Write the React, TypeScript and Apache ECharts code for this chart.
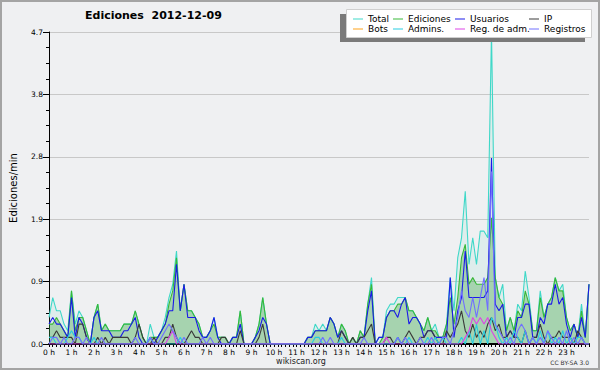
import React, { useEffect, useRef } from "react";
import * as echarts from "echarts";

// 10-minute slots, index 0..144 (0 h .. 24 h)
const hourLabels = ["0 h","1 h","2 h","3 h","4 h","5 h","6 h","7 h","8 h","9 h","10 h","11 h","12 h","13 h","14 h","15 h","16 h","17 h","18 h","19 h","20 h","21 h","22 h","23 h"];
const yLabels = ["0.0", "0.9", "1.9", "2.8", "3.8", "4.7"];

const total = [
  0.4,0.7,0.5,0.5,0.3,0.2,0.8,0.3,0.5,0.4,
  0.2,0,0.4,0.6,0.2,0.3,0.2,0.2,0.2,0.2,
  0.3,0.3,0.3,0.5,0.3,0.1,0,0.3,0.1,0.1,
  0.2,0.4,0.7,0.9,1.4,0.5,0.9,0.5,0.5,0.4,
  0.3,0.1,0.1,0.2,0.4,0.1,0.1,0.1,0,0.1,
  0.1,0.5,0,0,0,0.1,0.3,0.7,0.3,0,
  0,0,0,0,0,0,0,0,0,0.1,
  0.1,0.3,0.2,0.3,0.2,0.4,0.3,0.1,0.3,0.2,
  0,0.1,0,0.2,0.1,0.6,1.0,0,0.1,0.1,
  0.5,0.6,0.6,0.7,0.7,0.7,0.5,0.5,0.4,0.3,
  0.2,0.4,0.2,0.3,0.1,0.1,0.3,1.0,0.5,1.3,
  1.6,2.3,1.2,1.6,1.2,1.7,1.7,1.6,4.7,1.0,
  0.7,0.9,0.2,0.4,0.2,0.6,0.5,1.1,0.7,0.2,
  0.2,0.8,0.4,0.6,0.7,1.0,0.8,0.9,0.4,0.2,
  0.3,0.1,0.6,0.1,0.9
];
const ediciones = [
  0.3,0.3,0.4,0.3,0.2,0.1,0.8,0.2,0.4,0.4,
  0.2,0,0.4,0.6,0.2,0.3,0.2,0.2,0.2,0.2,
  0.3,0.3,0.3,0.5,0.3,0.1,0,0.1,0.1,0.1,
  0.2,0.3,0.6,0.8,1.3,0.5,0.9,0.5,0.5,0.4,
  0.3,0.1,0.1,0.2,0.3,0.1,0.1,0.1,0,0.1,
  0.1,0.5,0,0,0,0.1,0.3,0.7,0.3,0,
  0,0,0,0,0,0,0,0,0,0.1,
  0.1,0.2,0.2,0.2,0.2,0.4,0.3,0.1,0.3,0.2,
  0,0.1,0,0.2,0.1,0.6,0.9,0,0,0.1,
  0.4,0.5,0.5,0.6,0.6,0.7,0.5,0.5,0.4,0.3,
  0.2,0.4,0.2,0.2,0.1,0.1,0.3,0.7,0.3,0.7,
  1.3,1.5,0.9,1.0,0.9,0.9,0.9,1.0,1.9,1.0,
  0.7,0.6,0.2,0.4,0.2,0.5,0.4,0.8,0.6,0.2,
  0.2,0.7,0.4,0.6,0.7,1.0,0.8,0.8,0.4,0.2,
  0.3,0.1,0.5,0.1,0.9
];
const usuarios = [
  0.3,0.4,0.3,0.3,0.2,0.1,0.7,0.1,0.4,0.3,
  0.1,0,0.4,0.5,0.2,0.2,0.2,0.1,0.1,0.1,
  0.2,0.2,0.3,0.4,0.1,0,0,0.1,0,0.1,
  0.2,0.3,0.5,0.5,1.2,0.5,0.9,0.4,0.4,0.4,
  0.2,0.1,0.1,0.2,0.4,0.1,0,0,0,0.1,
  0.1,0.3,0,0,0,0.1,0.2,0.4,0.3,0,
  0,0,0,0,0,0,0,0,0,0.1,
  0.1,0.2,0.2,0.2,0.2,0.4,0.3,0.1,0.2,0.1,
  0,0,0,0.1,0.1,0.5,0.8,0,0.1,0.1,
  0.4,0.5,0.5,0.4,0.6,0.7,0.3,0.4,0.4,0.3,
  0.1,0.2,0.2,0.1,0.1,0.1,0.1,1.0,0.1,0.5,
  0.7,1.4,0.7,0.7,0.7,0.7,0.7,0.8,2.8,0.6,
  0.5,0.6,0.1,0.2,0.1,0.4,0.4,0.6,0.6,0.1,
  0.1,0.4,0.3,0.6,0.6,0.9,0.6,0.7,0.3,0.1,
  0.3,0.1,0.4,0.1,0.9
];
const ip = [
  0.1,0.1,0.2,0.1,0.1,0.1,0.1,0,0.3,0.3,
  0.1,0,0,0.1,0,0.1,0,0.1,0.1,0.1,
  0.1,0.1,0,0.1,0.3,0.1,0,0,0.1,0,
  0,0.1,0.1,0.3,0.1,0,0,0.1,0.2,0.1,
  0.1,0,0,0,0,0,0.1,0.1,0,0,
  0,0.2,0,0,0,0,0.1,0.3,0,0,
  0,0,0,0,0,0,0,0,0,0,
  0,0,0,0,0,0,0,0,0.2,0.1,
  0,0.1,0,0.1,0.1,0.2,0.3,0,0,0,
  0.1,0.1,0,0.1,0,0.1,0.2,0.1,0,0.1,
  0.1,0.2,0.2,0.1,0,0,0.2,0.1,0.2,0.3,
  0.5,0.2,0.1,0.3,0.1,0.2,0.1,0.3,0.4,0.2,
  0.3,0.1,0.1,0.2,0.1,0.1,0,0.2,0,0.1,
  0.1,0.3,0.1,0,0.1,0.1,0.2,0.1,0.1,0.1,
  0,0.2,0.1,0,0
];
const bots = [
  0,0,0,0,0,0,0,0,0,0, 0,0,0,0,0,0,0,0,0,0,
  0,0,0,0,0,0,0,0,0,0, 0,0,0,0,0,0,0,0,0,0,
  0,0,0,0,0,0,0,0,0,0, 0,0,0,0,0,0,0,0,0,0,
  0,0,0,0,0,0,0,0,0,0, 0,0,0,0,0,0,0,0,0,0,
  0,0,0,0,0,0,0,0,0,0, 0,0,0,0,0,0,0,0,0,0,
  0,0,0,0,0,0,0,0,0,0, 0,0,0,0,0,0,0,0,0,0,
  0,0,0,0,0,0,0,0,0,0, 0,0,0,0,0,0,0,0,0,0,
  0,0,0,0,0
];
const admins = [
  0.1,0.1,0,0,0,0.1,0.2,0.1,0.1,0,
  0,0,0.1,0,0,0,0,0,0,0,
  0,0,0,0,0,0,0,0.1,0,0,
  0,0,0,0,0,0.1,0,0,0,0,
  0,0,0,0,0,0,0,0,0,0,
  0,0,0,0,0,0,0,0,0,0,
  0,0,0,0,0,0,0,0,0,0,
  0,0.1,0.1,0,0,0,0,0,0.1,0,
  0,0,0,0,0,0,0,0,0,0,
  0,0,0,0.1,0,0,0.1,0,0,0,
  0,0.1,0,0.1,0,0.1,0,0,0,0,
  0.1,0,0.2,0,0.3,0,0.2,0,0.4,0.3,
  0.1,0,0.1,0,0.2,0.1,0,0.2,0,0.1,
  0,0.2,0,0.2,0,0.1,0,0.2,0,0.1,
  0,0.1,0.1,0,0
];
const regAdm = [
  0,0,0,0,0,0,0,0,0,0,
  0,0,0,0,0,0,0,0,0,0,
  0,0,0,0,0,0,0,0,0,0,
  0,0,0.1,0.2,0,0,0,0,0,0,
  0,0,0,0,0,0,0,0,0,0,
  0,0,0,0,0,0,0,0,0,0,
  0,0,0,0,0,0,0,0,0,0,
  0,0,0,0,0,0,0,0,0,0,
  0,0,0,0,0,0,0,0,0,0,
  0.1,0,0,0,0,0,0,0,0,0,
  0,0,0,0,0,0,0,0,0,0,
  0,0.1,0.2,0.4,0.3,0.4,0.3,0.4,0.2,0.1,
  0,0,0,0,0,0,0,0,0,0,
  0,0,0,0,0,0,0,0,0,0,
  0,0,0,0,0
];
const registros = [
  0,0.1,0.1,0,0.1,0,0,0.1,0.1,0,
  0.1,0,0,0,0.1,0,0,0,0,0,
  0,0,0,0.1,0,0,0,0.1,0,0,
  0.1,0.2,0.3,0.2,0.1,0,0.1,0,0,0,
  0,0.1,0,0.1,0,0,0,0,0,0,
  0,0,0,0,0,0,0,0,0,0,
  0,0,0,0,0,0,0,0,0,0,
  0,0,0,0.1,0,0.1,0,0,0,0,
  0,0,0,0,0.1,0,0,0,0,0,
  0,0,0,0.1,0,0.1,0,0,0,0.1,
  0,0,0.1,0,0,0.1,0.1,0,0.2,0.4,
  0.8,0.5,0.4,0.7,0.4,0.7,1.0,0.5,2.6,0.3,
  0.2,0.1,0,0.1,0,0.2,0.3,0.2,0,0.1,
  0,0.1,0,0.2,0.1,0,0.1,0,0.2,0,
  0.1,0,0.1,0,0
];

const FONT = "DejaVu Sans";

function mk(name: string, data: number[], color: string, extra: any = {}) {
  return {
    name,
    type: "line",
    data: data.map((v, i) => [i, v]),
    symbol: "none",
    showSymbol: false,
    lineStyle: { color, width: 1.1 },
    itemStyle: { color },
    emphasis: { disabled: true },
    ...extra,
  };
}

export default function App() {
  const ref = useRef<HTMLDivElement>(null);
  useEffect(() => {
    const chart = echarts.init(ref.current!, null, { renderer: "svg" });
    const legendBase = {
      orient: "vertical",
      top: 14,
      itemWidth: 10,
      itemHeight: 1,
      itemGap: 0,
      icon: "rect",
      padding: 0,
      selectedMode: false,
      z: 60,
      textStyle: { fontFamily: FONT, fontSize: 9, color: "#000", lineHeight: 10 },
    };
    chart.setOption({
      animation: false,
      backgroundColor: "#eff0f2",
      title: {
        text: "Ediciones  2012-12-09",
        left: 85,
        top: 10,
        padding: 0,
        textStyle: { fontFamily: FONT, fontSize: 11, fontWeight: "bold", color: "#000" },
      },
      legend: [
        { ...legendBase, left: 353, data: ["Total", "Bots"] },
        { ...legendBase, left: 393, data: ["Ediciones", "Admins."] },
        { ...legendBase, left: 455, data: ["Usuarios", "Reg. de adm."] },
        { ...legendBase, left: 529, data: ["IP", "Registros"] },
      ],
      grid: { left: 44, right: 11, top: 32, bottom: 26 },
      xAxis: {
        type: "value",
        min: 0,
        max: 144,
        interval: 6,
        z: 3,
        axisLine: { lineStyle: { color: "#000", width: 2 } },
        axisTick: { length: 3, lineStyle: { color: "#000", width: 1 } },
        minorTick: { show: true, splitNumber: 6, length: 3, lineStyle: { color: "#000", width: 1 } },
        axisLabel: {
          fontFamily: FONT,
          fontSize: 7.5,
          color: "#000",
          margin: 4,
          formatter: (v: number) => hourLabels[Math.round(v / 6)] ?? "",
        },
        splitLine: { show: false },
        minorSplitLine: { show: false },
      },
      yAxis: {
        type: "value",
        min: 0,
        max: 4.7,
        interval: 0.94,
        axisLine: { show: true, lineStyle: { color: "#000", width: 1 } },
        axisTick: { show: true, length: 6, lineStyle: { color: "#000" } },
        minorTick: { show: true, splitNumber: 4, length: 3, lineStyle: { color: "#000" } },
        axisLabel: {
          fontFamily: FONT,
          fontSize: 7.5,
          color: "#000",
          margin: 6,
          formatter: (v: number) => yLabels[Math.round(v / 0.94)] ?? "",
        },
        splitLine: { show: true, lineStyle: { color: "#c8c8c8", width: 1 } },
        name: "Ediciones/min",
        nameLocation: "middle",
        nameGap: 31,
        nameTextStyle: { fontFamily: FONT, fontSize: 10, color: "#000" },
      },
      series: [
        mk("Total", total, "#3fd8c8", { areaStyle: { color: "rgba(110,215,200,0.18)" } }),
        mk("Ediciones", ediciones, "#38b838", { areaStyle: { color: "rgba(30,150,30,0.42)" } }),
        mk("Usuarios", usuarios, "#1a1ae8"),
        mk("IP", ip, "#3a3a3a"),
        mk("Bots", bots, "#ffa31a", { z: 1 }),
        mk("Admins.", admins, "#28cce0"),
        mk("Reg. de adm.", regAdm, "#dd44e6"),
        mk("Registros", registros, "#7070ff"),
      ],
      graphic: [
        {
          type: "rect",
          silent: true,
          z: 0,
          shape: { x: 1, y: 1, width: 598, height: 368 },
          style: { fill: "none", stroke: "#a4a4a4", lineWidth: 2 },
        },
        {
          type: "rect",
          silent: true,
          z: 50,
          shape: { x: 340, y: 14, width: 245, height: 28 },
          style: { fill: "#7a7a7a" },
        },
        {
          type: "rect",
          silent: true,
          z: 51,
          shape: { x: 346.5, y: 9.5, width: 245, height: 28 },
          style: { fill: "#ffffff", stroke: "#cfcfcf", lineWidth: 1 },
        },
        {
          type: "text",
          silent: true,
          x: 301,
          y: 361,
          style: { text: "wikiscan.org", font: `8px "${FONT}"`, fill: "#222", align: "center", verticalAlign: "middle" },
        },
        {
          type: "text",
          silent: true,
          x: 589,
          y: 362,
          style: { text: "CC BY-SA 3.0", font: `6px "${FONT}"`, fill: "#333", align: "right", verticalAlign: "middle" },
        },
      ],
    });
    return () => chart.dispose();
  }, []);
  return (
    <div style={{ position: "fixed", left: 0, top: 0, width: 600, height: 370 }}>
      <div ref={ref} style={{ width: 600, height: 370 }} />
    </div>
  );
}
